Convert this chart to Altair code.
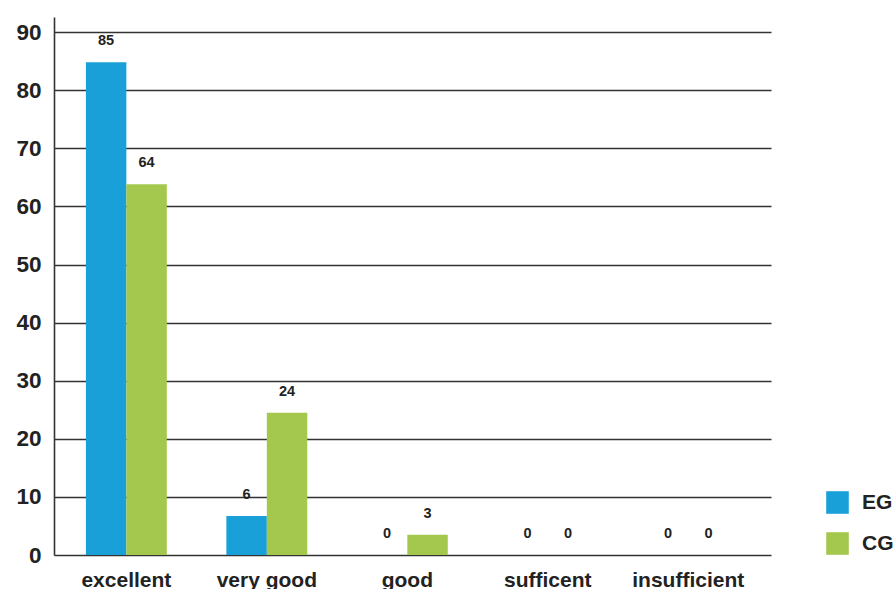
import altair as alt
import pandas as pd

categories = ["excellent", "very good", "good", "sufficent", "insufficient"]
groups = ["EG", "CG"]
eg_values = [84.8, 6.7, 0, 0, 0]
cg_values = [63.8, 24.5, 3.5, 0, 0]
eg_labels = ["85", "6", "0", "0", "0"]
cg_labels = ["64", "24", "3", "0", "0"]
y_ticks = [0, 10, 20, 30, 40, 50, 60, 70, 80, 90]

rows = []
for i, c in enumerate(categories):
    rows.append({"category": c, "group": "EG", "value": eg_values[i], "label": eg_labels[i]})
    rows.append({"category": c, "group": "CG", "value": cg_values[i], "label": cg_labels[i]})
df = pd.DataFrame(rows)

FONT = "Liberation Sans Narrow, Liberation Sans, Roboto, sans-serif"
TXT = "#222222"

x = alt.X("category:N", sort=categories, title=None,
          scale=alt.Scale(paddingInner=0.424, paddingOuter=0.264, align=0.43),
          axis=alt.Axis(labelAngle=0, domain=False, ticks=False, labelPadding=14,
                        labelFontSize=21, labelFont=FONT, labelFontWeight="bold",
                        labelColor=TXT))
y = alt.Y("value:Q", title=None,
          scale=alt.Scale(domain=[0, 92.6], nice=False, zero=True),
          axis=alt.Axis(values=y_ticks, grid=True, gridColor="#333333", gridWidth=1.4,
                        domain=True, domainColor="#333333", domainWidth=1.6,
                        ticks=False, labelPadding=13, labelFontSize=22.5, labelFont=FONT,
                        labelFontWeight="bold", labelColor=TXT))
xo = alt.XOffset("group:N", sort=groups, scale=alt.Scale(domain=groups, paddingInner=0, paddingOuter=0))
color = alt.Color("group:N", sort=groups,
                  scale=alt.Scale(domain=groups, range=["#19a0d9", "#a4c84e"]),
                  legend=alt.Legend(title=None, orient="none", legendX=772, legendY=474,
                                    symbolType="square", symbolSize=510, symbolStrokeWidth=0,
                                    symbolOpacity=1, labelFontSize=21, labelFont=FONT,
                                    labelFontWeight="bold", labelColor=TXT, labelOffset=13,
                                    rowPadding=18, padding=0))

base = alt.Chart(df)
bars = base.mark_bar(opacity=1).encode(x=x, xOffset=xo, y=y, color=color)
labels = base.mark_text(dy=-21, baseline="middle", align="center", fontSize=14.5,
                        fontWeight="bold", font=FONT, color=TXT).encode(
    x=alt.X("category:N", sort=categories), xOffset=alt.XOffset("group:N", sort=groups),
    y="value:Q", text="label:N")

chart = alt.layer(bars, labels).properties(
    width=717, height=538,
    autosize=alt.AutoSizeParams(type="none"),
    padding={"left": 54, "top": 17, "right": 122, "bottom": 34},
    background="white",
).configure_view(stroke=None)

chart.save("out.html", embed_options={"renderer": "svg", "actions": False})
